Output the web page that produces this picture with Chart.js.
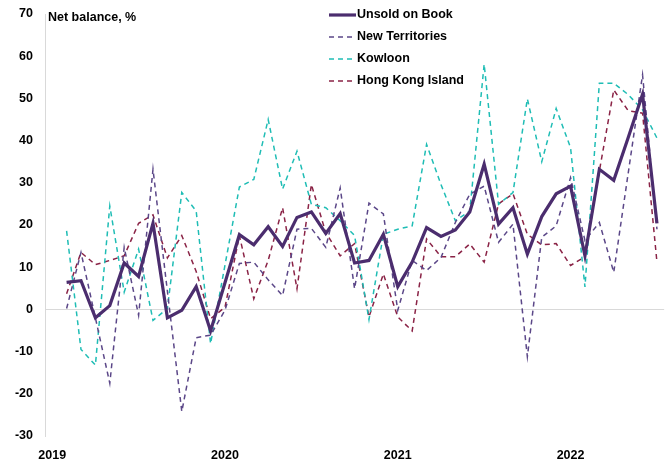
<!DOCTYPE html>
<html>
<head>
<meta charset="utf-8">
<script src="https://cdn.jsdelivr.net/npm/chart.js@4/dist/chart.umd.min.js"></script>
<style>
  html, body { margin: 0; padding: 0; background: #fff; }
  #wrap { width: 669px; height: 466px; position: relative; }
</style>
</head>
<body>
<div id="wrap"><canvas id="chart"></canvas></div>
<script>
  /* ── Data (monthly, Jan 2019 – Jul 2022; Jan 2019 slot is empty) ── */
  var months = [];
  for (var yr = 2019; yr <= 2022; yr++) {
    for (var m = 1; m <= 12; m++) {
      if (yr === 2022 && m > 7) break;
      months.push(yr + "-" + (m < 10 ? "0" + m : m));
    }
  }
  var yearTicks = ["2019", "2020", "2021", "2022"];

  var unsoldOnBook = [null, 6.4, 6.8, -2.0, 0.9, 11.0, 7.8, 20.4, -2.0, -0.2, 5.4, -5.1,
    6.3, 17.7, 15.3, 19.6, 14.9, 21.8, 23.1, 18.0, 22.7, 11.0, 11.6, 17.8,
    5.4, 11.2, 19.4, 17.3, 18.8, 23.1, 34.4, 20.2, 24.1, 13.1, 22.0, 27.4,
    29.2, 12.7, 33.2, 30.6, 40.7, 51.0, 20.4];
  var newTerritories = [null, 0.2, 13.5, -2.0, -17.5, 14.7, -1.4, 33.2, 4.3, -24.2, -6.7, -6.1,
    -0.2, 10.9, 11.2, 7.0, 3.3, 19.0, 19.2, 14.7, 28.8, 4.9, 25.2, 22.6,
    -0.2, 11.6, 9.2, 12.3, 20.6, 27.3, 29.2, 15.9, 20.2, -11.2, 17.1, 19.8,
    31.2, 16.3, 20.6, 8.8, 32.2, 55.6, 19.0];
  var kowloon = [null, 18.6, -9.5, -13.2, 24.5, 4.1, 14.3, -2.6, 0.2, 27.7, 23.3, -8.1,
    10.5, 29.0, 30.8, 45.0, 28.5, 37.5, 24.9, 24.1, 21.0, 17.5, -2.4, 17.8,
    19.0, 19.8, 39.1, 29.6, 21.0, 23.3, 58.1, 24.9, 27.7, 49.9, 35.0, 47.6,
    38.3, 5.3, 53.6, 53.6, 50.9, 47.3, 40.6];
  var hongKongIsland = [null, 3.7, 13.5, 10.6, 11.6, 12.7, 20.4, 22.4, 12.2, 17.5, 9.0, -2.2,
    0.5, 17.5, 2.5, 11.6, 24.1, 4.9, 29.6, 18.2, 12.7, 15.6, -1.8, 8.4,
    -1.8, -5.1, 16.7, 12.5, 12.5, 15.5, 11.2, 25.0, 27.4, 17.8, 15.3, 15.6,
    10.4, 12.5, 32.8, 52.0, 47.1, 46.5, 11.2];

  var FONT = "Liberation Sans, Arial, sans-serif";

  /* ── Legend + axis caption drawn inside the plot ── */
  var overlayPlugin = {
    id: "overlay",
    afterDraw: function (chart) {
      var ctx = chart.ctx;
      ctx.save();
      ctx.fillStyle = "#000";
      ctx.font = "bold 12.5px " + FONT;
      ctx.textBaseline = "middle";
      ctx.textAlign = "left";
      ctx.fillText("Net balance, %", 48, 18);

      var rowY = [15, 37, 59, 81];
      chart.data.datasets.forEach(function (ds, i) {
        var y = rowY[i];
        ctx.beginPath();
        ctx.strokeStyle = ds.borderColor;
        ctx.lineWidth = ds.borderWidth;
        ctx.setLineDash(ds.borderDash || []);
        ctx.moveTo(329, y);
        ctx.lineTo(356, y);
        ctx.stroke();
        ctx.setLineDash([]);
        ctx.fillStyle = "#000";
        ctx.fillText(ds.label, 357, y);
      });
      ctx.restore();
    },
  };

  new Chart(document.getElementById("chart").getContext("2d"), {
    type: "line",
    data: {
      labels: months,
      datasets: [
        { label: "Unsold on Book", data: unsoldOnBook, borderColor: "#4b2d6e", borderWidth: 3.2 },
        { label: "New Territories", data: newTerritories, borderColor: "#5b4788", borderWidth: 1.5, borderDash: [5, 4] },
        { label: "Kowloon", data: kowloon, borderColor: "#1fbdb5", borderWidth: 1.5, borderDash: [5, 4] },
        { label: "Hong Kong Island", data: hongKongIsland, borderColor: "#8a2346", borderWidth: 1.5, borderDash: [5, 4] },
      ],
    },
    options: {
      responsive: true,
      maintainAspectRatio: false,
      animation: false,
      layout: { padding: { top: 0, right: 4, left: 0, bottom: 0 } },
      elements: { point: { radius: 0 }, line: { tension: 0, borderJoinStyle: "miter" } },
      plugins: { legend: { display: false }, tooltip: { enabled: false } },
      scales: {
        x: {
          type: "category",
          offset: true,
          grid: { display: false, drawTicks: false },
          border: { display: false },
          afterFit: function (s) { s.height = 30; },
          ticks: {
            autoSkip: false,
            maxRotation: 0,
            padding: 12,
            color: "#000",
            font: { family: FONT, size: 12.5, weight: "bold" },
            callback: function (v, i) {
              return i % 12 === 0 ? yearTicks[i / 12] : "";
            },
          },
        },
        y: {
          min: -30,
          max: 70,
          afterFit: function (s) { s.width = 45; s.paddingTop = 14; s.paddingBottom = 0; },
          grid: {
            drawTicks: false,
            color: function (c) { return c.tick && c.tick.value === 0 ? "#d9d9d9" : "rgba(0,0,0,0)"; },
          },
          border: { display: true, color: "#d9d9d9", width: 1 },
          ticks: {
            stepSize: 10,
            padding: 12,
            color: "#000",
            font: { family: FONT, size: 12.5, weight: "bold" },
          },
        },
      },
    },
    plugins: [overlayPlugin],
  });
</script>
</body>
</html>
